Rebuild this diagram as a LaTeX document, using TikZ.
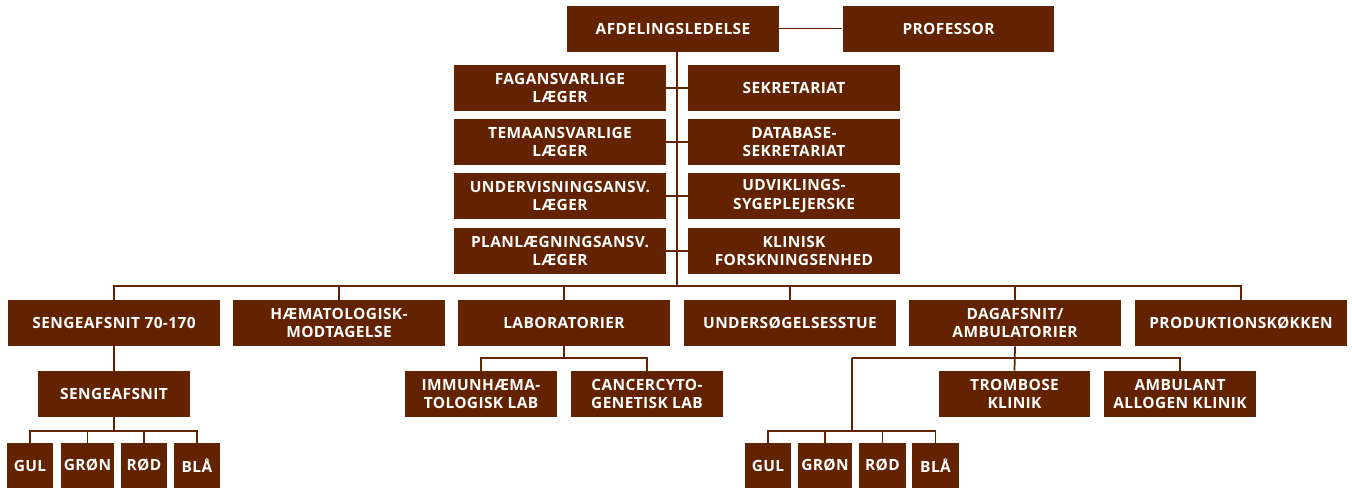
\documentclass[tikz,border=0pt]{standalone}
\usepackage{fontspec}
\setmainfont{Open Sans}[LetterSpace=2.5]
\definecolor{unitbrown}{HTML}{632200}

\tikzset{
  unit/.style={fill=unitbrown, text=white, align=center, inner sep=0pt,
    font=\bfseries\fontsize{8.8}{10.4}\selectfont,
    minimum width=4.24cm, minimum height=0.92cm},
  subunit/.style={unit, minimum width=3.04cm},
  ward/.style={unit, minimum height=0.9cm},
  link/.style={draw=unitbrown, line width=1pt}
}

\begin{document}
\begin{tikzpicture}[x=0.02cm, y=-0.02cm]
  \useasboundingbox (0,0) rectangle (1352,488);

  % ledelse
  \node[unit] (afd) at (673,28.5) {AFDELINGSLEDELSE};
  \node[unit] (prof) at (948.5,28.5) {PROFESSOR};
  \draw[link] (afd.east) -- (prof.west);

  % stabsfunktioner
  \node[unit] (fag)  at (560,88)  {FAGANSVARLIGE\\LÆGER};
  \node[unit] (tema) at (560,142) {TEMAANSVARLIGE\\LÆGER};
  \node[unit] (underv) at (560,196) {UNDERVISNINGSANSV.\\LÆGER};
  \node[unit] (plan) at (560,251) {PLANLÆGNINGSANSV.\\LÆGER};
  \node[unit] (sekr) at (794,88)  {SEKRETARIAT};
  \node[unit] (dbsekr) at (794,142) {DATABASE-\\SEKRETARIAT};
  \node[unit] (udv)  at (794,196) {UDVIKLINGS-\\SYGEPLEJERSKE};
  \node[unit] (klin) at (794,251) {KLINISK\\FORSKNINGSENHED};
  \foreach \a/\b in {fag/sekr, tema/dbsekr, underv/udv, plan/klin}
    \draw[link] (\a.east) -- (\b.west);

  \coordinate (trunk) at (677,51);
  \coordinate (bus) at (677,286);
  \draw[link] (trunk) -- (bus);

  % afsnit
  \node[unit] (seng70) at (114,323)  {SENGEAFSNIT 70-170};
  \node[unit] (hmod)   at (339,323)  {HÆMATOLOGISK-\\MODTAGELSE};
  \node[unit] (lab)    at (564,323)  {LABORATORIER};
  \node[unit] (usst)   at (790,323)  {UNDERSØGELSESSTUE};
  \node[unit] (dag)    at (1015,323) {DAGAFSNIT/\\AMBULATORIER};
  \node[unit] (prod)   at (1241,323) {PRODUKTIONSKØKKEN};
  \draw[link] (seng70.north) |- (prod.north |- bus) -- (prod.north);
  \foreach \n in {hmod, lab, usst, dag}
    \draw[link] (\n.north) -- (\n.north |- bus);

  % sengeafsnit
  \node[subunit] (seng) at (114,394) {SENGEAFSNIT};
  \draw[link] (seng70.south) -- (seng.north);
  \node[ward, minimum width=0.92cm] (gulA)  at (30,465.5)  {GUL};
  \node[ward, minimum width=1.06cm] (gronA) at (87.5,465.5) {GRØN};
  \node[ward, minimum width=0.92cm] (rodA)  at (144,465.5) {RØD};
  \node[ward, minimum width=0.92cm] (blaA)  at (197,465.5) {BLÅ};
  \coordinate (wbusA) at (114,431);
  \draw[link] (seng.south) -- (wbusA);
  \draw[link] (gulA.north) |- (blaA.north |- wbusA) -- (blaA.north);
  \foreach \n in {gronA, rodA}
    \draw[link] (\n.north) -- (\n.north |- wbusA);

  % laboratorier
  \node[subunit] (immun)  at (481,394) {IMMUNHÆMA-\\TOLOGISK LAB};
  \node[subunit] (cancer) at (647,394) {CANCERCYTO-\\GENETISK LAB};
  \coordinate (labbus) at (564,358);
  \draw[link] (lab.south) -- (labbus);
  \draw[link] (immun.north) |- (cancer.north |- labbus) -- (cancer.north);

  % dagafsnit
  \node[subunit, minimum width=3.02cm] (tromb) at (1014.5,394) {TROMBOSE\\KLINIK};
  \node[subunit] (ambul) at (1180,394) {AMBULANT\\ALLOGEN KLINIK};
  \coordinate (dagbus) at (852,358);
  \draw[link] (dag.south) -- (tromb.north);
  \draw[link] (dagbus) -- (ambul.north |- dagbus) -- (ambul.north);

  \node[ward, minimum width=0.92cm] (gulB)  at (768,465.5)   {GUL};
  \node[ward, minimum width=1.08cm] (gronB) at (825,465.5)   {GRØN};
  \node[ward, minimum width=0.94cm] (rodB)  at (882.5,465.5) {RØD};
  \node[ward, minimum width=0.94cm] (blaB)  at (935.5,465.5) {BLÅ};
  \coordinate (wbusB) at (852,431);
  \draw[link] (dagbus) -- (wbusB);
  \draw[link] (gulB.north) |- (blaB.north |- wbusB) -- (blaB.north);
  \foreach \n in {gronB, rodB}
    \draw[link] (\n.north) -- (\n.north |- wbusB);
\end{tikzpicture}
\end{document}
